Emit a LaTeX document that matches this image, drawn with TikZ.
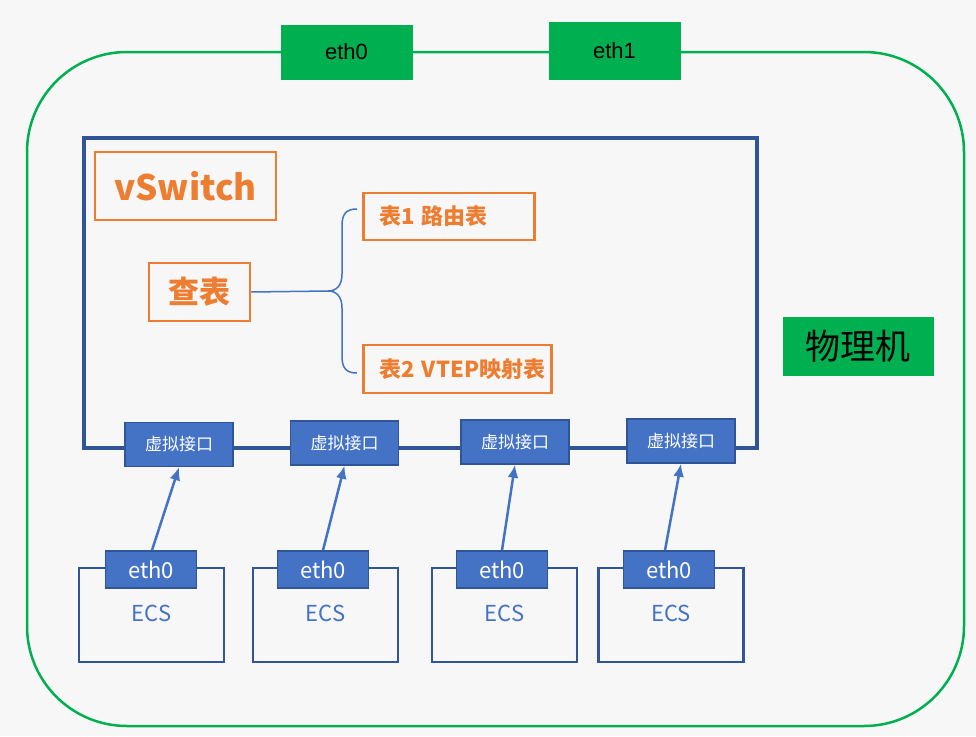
\documentclass[tikz,border=0pt]{standalone}
\usepackage{fontspec}
\usetikzlibrary{arrows.meta}
\newfontfamily\cjk{Noto Sans CJK SC}
\newfontfamily\arialf{Liberation Sans}
\definecolor{bgc}{HTML}{F7F7F7}
\definecolor{grn}{HTML}{00B050}
\definecolor{dkblue}{HTML}{2F5597}
\definecolor{blu}{HTML}{4472C4}
\definecolor{org}{HTML}{ED7D31}
\tikzset{
  fs/.style={font=\cjk\fontsize{#1}{#1}\selectfont},
  fsb/.style={font=\cjk\bfseries\fontsize{#1}{#1}\selectfont},
  gbox/.style={fill=grn, draw=grn, inner sep=0pt, text=black},
  obox/.style={draw=org, line width=2.5pt, text=org, inner sep=0pt},
  tbl/.style={obox, fsb=22, anchor=west, align=left, inner xsep=0pt, minimum height=47pt},
  ifc/.style={draw=dkblue, line width=1.5pt, fill=blu, text=white, minimum width=108pt, minimum height=44pt, inner sep=0pt, fs=17},
  ecsbox/.style={draw=dkblue, line width=2.5pt, fill=bgc, minimum width=145pt, minimum height=94pt, inner sep=0pt},
  tab/.style={draw=dkblue, line width=1.5pt, fill=blu, text=white, minimum width=91pt, minimum height=37pt, inner sep=0pt, fs=22},
  arr/.style={draw=blu, line width=2.5pt, -{Latex[length=13pt,width=11pt]}},
  brace/.style={draw=blu, line width=1.5pt},
}
\begin{document}
\begin{tikzpicture}[x=1pt,y=-1pt]
\fill[bgc] (0,0) rectangle (976,736);
\useasboundingbox (0,0) rectangle (976,736);
% outer physical machine
\draw[grn, line width=2.5pt, rounded corners=100pt] (27,52) rectangle (964,726);
\node[gbox, minimum width=131pt, minimum height=54pt, font=\arialf\fontsize{22}{22}\selectfont] (pe0) at (346.5,52) {eth0};
\node[gbox, minimum width=131pt, minimum height=57pt, font=\arialf\fontsize{22}{22}\selectfont] (pe1) at (614.5,50.5) {eth1};
\node[gbox, minimum width=150pt, minimum height=58pt, fs=35] (pm) at (858,346) {物理机};
% vSwitch frame
\draw[dkblue, line width=4pt] (84,138) rectangle (757,448);
\node[obox, minimum width=181pt, minimum height=68pt, fsb=35] (vs) at (185.5,186) {vSwitch};
\node[obox, minimum width=101pt, minimum height=58pt, fsb=31] (cb) at (199.5,292) {查表};
\node[tbl, text width=171pt] (t1) at (362,216.5) {\hspace*{16pt}表1 路由表};
\node[tbl, text width=188pt, minimum height=48pt] (t2) at (362,369) {\hspace*{16pt}表2 VTEP映射表};
% brace
\coordinate (tip) at (328,291);
\coordinate (b1) at (357,209);
\coordinate (b2) at (357,373);
\draw[brace] (cb.east) -- (tip);
\draw[brace] (b1) .. controls (346,209) and (342,214) .. (342,226) -- (342,274) .. controls (342,286) and (336,291) .. (tip);
\draw[brace] (tip) .. controls (336,291) and (342,296) .. (342,308) -- (342,356) .. controls (342,368) and (346,373) .. (b2);
% virtual interfaces
\node[ifc] (i1) at (179,444.5) {虚拟接口};
\node[ifc] (i2) at (344.5,443) {虚拟接口};
\node[ifc] (i3) at (515,442) {虚拟接口};
\node[ifc] (i4) at (681,441) {虚拟接口};
% ECS boxes
\node[ecsbox] (e1) at (151.5,615) {};
\node[ecsbox] (e2) at (325.5,615) {};
\node[ecsbox] (e3) at (504.5,615) {};
\node[ecsbox] (e4) at (671,615) {};
\foreach \n in {1,2,3,4}{
  \node[text=blu, fs=22] (c\n) at ([yshift=2pt]e\n.center) {ECS};
}
\node[tab] (h1) at (151,569.5) {eth0};
\node[tab] (h2) at (323,569.5) {eth0};
\node[tab] (h3) at (502,569.5) {eth0};
\node[tab] (h4) at (669,569.5) {eth0};
\draw[arr] ([xshift=1pt]h1.north) -- (i1.south);
\draw[arr] (h2.north) -- (i2.south);
\draw[arr] (h3.north) -- (i3.south);
\draw[arr] ([xshift=-4pt]h4.north) -- (i4.south);
\end{tikzpicture}
\end{document}
